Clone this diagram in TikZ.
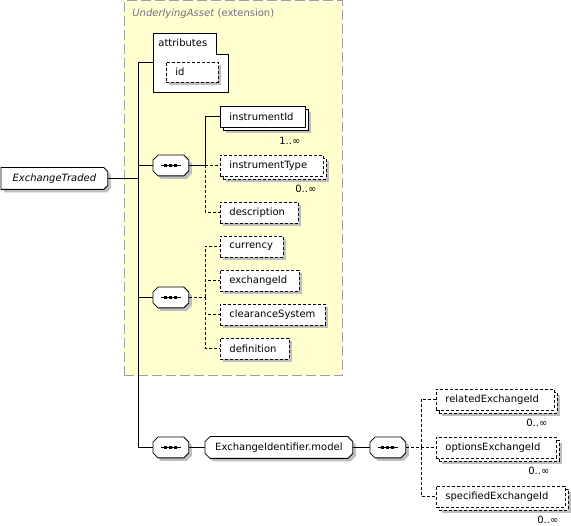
\documentclass[tikz,border=0pt]{standalone}
\usepackage{fontspec}
\setmainfont{DejaVu Sans}
\usetikzlibrary{shadows,backgrounds}
\definecolor{extfill}{RGB}{255,255,208}
\definecolor{extline}{RGB}{160,160,160}
\definecolor{exttext}{RGB}{112,112,128}
\hyphenpenalty=10000
\exhyphenpenalty=10000

% outline with cut corners round a node
\newcommand{\octo}[4]{%
	\path[#1] ([xshift=#3]#2.north west) -- ([xshift=-#4]#2.north east) -- ([yshift=-#4]#2.north east)
		-- ([yshift=#4]#2.south east) -- ([xshift=-#4]#2.south east) -- ([xshift=#3]#2.south west)
		-- ([yshift=#3]#2.south west) -- ([yshift=-#3]#2.north west) -- cycle;}

\begin{document}
\begin{tikzpicture}[x=1pt,y=-1pt,line width=0.8pt,font=\fontsize{10}{12}\selectfont,
	shade/.style={drop shadow={shadow xshift=3pt,shadow yshift=-3pt,fill=black!25,opacity=1}},
	elem/.style={draw,fill=white,anchor=west,text width=#1,align=left,inner xsep=9pt,inner ysep=0pt,minimum height=21pt,shade},
	opt/.style={dash pattern=on 3pt off 2pt},
	many/.style={drop shadow={shadow xshift=6pt,shadow yshift=-6pt,fill=black!25,opacity=1},
		general shadow={shadow xshift=3pt,shadow yshift=-3pt,fill=white,draw=black,#1}},
	many/.default={solid},
	seq/.style={anchor=west,minimum width=35pt,minimum height=20pt,inner sep=0pt},
	group/.style={anchor=west,minimum height=21pt,inner sep=0pt},
	card/.style={anchor=east,inner sep=0pt},
	octshade/.style={draw=none,fill=black!25,transform canvas={shift={(3pt,-3pt)}}},
	octline/.style={draw=black,line width=0.8pt,fill=white},
	]
	\useasboundingbox (0,0) rectangle (571,526);

	% extension
	\node[anchor=west,text=exttext,inner sep=0pt] (extlabel) at (132,14) {\textit{UnderlyingAsset} (extension)};

	% attributes
	\draw[fill=white] (153,33) -- (216,33) -- (216,54) -- (228,54) -- (228,92) -- (153,92) -- cycle;
	\node[anchor=west,inner sep=0pt] (attrlabel) at (158,43) {attributes};
	\coordinate (attrIn) at (153,62.5);
	\node[elem=34pt,opt,minimum height=20pt] (id) at (166,72) {id};

	\node[group,minimum width=106pt] (ExchangeTraded) at (1,178.5) {\textit{ExchangeTraded}};

	% first sequence
	\node[seq] (seqA) at (153,165.5) {};
	\node[elem=67pt,many] (instrumentId) at (220,116.5) {instrumentId};
	\node[elem=85pt,opt,many=opt] (instrumentType) at (220,165.5) {instrumentType};
	\node[elem=60pt,opt] (description) at (220,212.5) {description};
	\node[card] (cardA) at ([xshift=-5pt,yshift=-13pt]instrumentId.south east) {1..∞};
	\node[card] (cardB) at ([xshift=-7pt,yshift=-12pt]instrumentType.south east) {0..∞};

	% second sequence
	\node[seq] (seqB) at (153,297.5) {};
	\node[elem=45pt,opt] (currency) at (220,246.5) {currency};
	\node[elem=61pt,opt] (exchangeId) at (220,280.5) {exchangeId};
	\node[elem=87pt,opt] (clearanceSystem) at (220,314.5) {clearanceSystem};
	\node[elem=51pt,opt] (definition) at (220,348.5) {definition};

	% exchange identifiers
	\node[seq] (seqC) at (153,447.5) {};
	\node[group,minimum width=147pt] (model) at (205,447.5) {ExchangeIdentifier.model};
	\node[seq] (seqD) at (370,447.5) {};
	\node[elem=100pt,opt,many=opt] (relatedExchangeId) at (436,399.5) {relatedExchangeId};
	\node[elem=102pt,opt,many=opt] (optionsExchangeId) at (436,447.5) {optionsExchangeId};
	\node[elem=111pt,opt,many=opt] (specifiedExchangeId) at (436,496.5) {specifiedExchangeId};
	\node[card] (cardC) at ([xshift=-7pt,yshift=-12pt]relatedExchangeId.south east) {0..∞};
	\node[card] (cardD) at ([xshift=-7pt,yshift=-12pt]optionsExchangeId.south east) {0..∞};
	\node[card] (cardE) at ([xshift=-7pt,yshift=-12pt]specifiedExchangeId.south east) {0..∞};

	\begin{scope}[on background layer]
		\node[draw=extline,fill=extfill,line width=0.8pt,dash pattern=on 10pt off 4pt,anchor=north west,minimum width=218pt,minimum height=375pt,inner sep=0pt] (ext) at (124,0.5) {};
		\octo{octshade}{ExchangeTraded}{0pt}{4pt}
		\octo{octline}{ExchangeTraded}{0pt}{4pt}
		\octo{octshade}{model}{5pt}{5pt}
		\octo{octline}{model}{5pt}{5pt}
		\foreach \c in {seqA,seqB,seqC,seqD}{
			\octo{octshade}{\c}{5pt}{5pt}
			\octo{octline}{\c}{5pt}{5pt}
		}
	\end{scope}

	\foreach \c in {seqA,seqB,seqC,seqD}{
		\draw ([xshift=-10pt]\c.center) -- ([xshift=10pt]\c.center);
		\foreach \d in {-5,0,5}
			\fill ([xshift=\d pt]\c.center) +(-1.5,-1.5) rectangle +(1.5,1.5);
	}

	% connectors
	\coordinate (trunkTop) at (138,62.5);
	\draw (attrIn) -- (trunkTop) -- (trunkTop |- seqC.west) -- (seqC.west);
	\draw (ExchangeTraded.east) -- (ExchangeTraded.east -| trunkTop);
	\draw (seqA.west -| trunkTop) -- (seqA.west);
	\draw (seqB.west -| trunkTop) -- (seqB.west);

	\coordinate (forkA) at (205,165.5);
	\draw (seqA.east) -- (forkA) |- (instrumentId.west);
	\draw[opt] (forkA) -- (instrumentType.west);
	\draw[opt] (forkA) |- (description.west);

	\coordinate (forkB) at (205,297.5);
	\draw[opt] (seqB.east) -- (forkB);
	\foreach \e in {currency,exchangeId,clearanceSystem,definition}
		\draw[opt] (forkB) |- (\e.west);

	\draw (seqC.east) -- (model.west);
	\draw (model.east) -- (seqD.west);
	\coordinate (forkD) at (421,447.5);
	\draw[opt] (seqD.east) -- (forkD);
	\foreach \e in {relatedExchangeId,optionsExchangeId,specifiedExchangeId}
		\draw[opt] (forkD) |- (\e.west);
\end{tikzpicture}
\end{document}
